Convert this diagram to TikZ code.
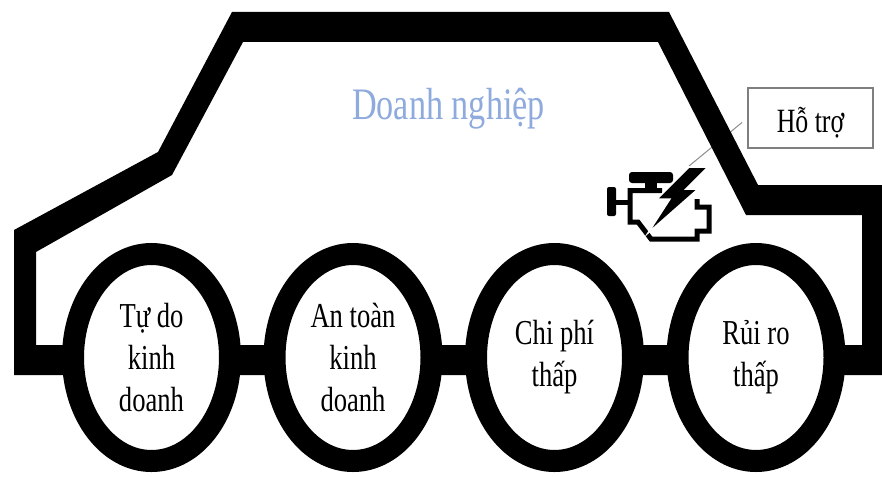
\documentclass[tikz,border=0pt]{standalone}
\usepackage{fontspec}
\setmainfont{Liberation Serif}
\newfontfamily\carfont{Liberation Serif}[FakeStretch=0.76]
\usetikzlibrary{shapes.geometric}
\definecolor{titleblue}{HTML}{8FAADC}
\definecolor{framegray}{HTML}{7F7F7F}
\definecolor{leadgray}{HTML}{8C8C8C}
\begin{document}
\begin{tikzpicture}[x=1pt,y=-1pt,
  wheel/.style={ellipse, draw=black, fill=white, line width=22pt,
    minimum width=157pt, minimum height=207pt, inner sep=0pt,
    align=center, font=\carfont\fontsize{35}{42}\selectfont},
  labelbox/.style={draw=framegray, line width=1.1pt, fill=white,
    minimum width=125pt, minimum height=60pt, inner sep=0pt,
    text height=32pt, text depth=4pt,
    font=\carfont\fontsize{34}{40}\selectfont},
  leader/.style={draw=leadgray, line width=1pt},
  iconline/.style={line width=5pt, line join=miter, line cap=butt}]
\useasboundingbox (0,0) rectangle (882,476);

% label box and its leader line (the car body passes over the line)
\node[labelbox] (hotro) at (810.5,118) {Hỗ trợ};
\coordinate (engine) at (689,166);
\draw[leader, shorten <=7pt] (hotro.west) -- (engine);

% car body: outer outline minus inner outline
\fill[black, even odd rule]
  (14,375) -- (14,230) -- (158,152) -- (232,12) -- (669,12) -- (758,185)
  -- (882,185) -- (882,375) -- cycle
  (36,345) -- (36,252) -- (172,175) -- (243,42) -- (658,42) -- (746,215)
  -- (862,215) -- (862,345) -- cycle;

% title
\node[font=\carfont\fontsize{45}{54}\selectfont, text=titleblue, anchor=base]
  (title) at (448.5,119) {Doanh nghiệp};

% wheels
\node[wheel] (w1) at (151.5,357.5) {Tự do\\kinh\\doanh};
\node[wheel] (w2) at (353,357.5) {An toàn\\kinh\\doanh};
\node[wheel] (w3) at (554.5,357.5) {Chi phí\\thấp};
\node[wheel] (w4) at (756,357.5) {Rủi ro\\thấp};

% engine warning icon
\fill[black, rounded corners=3pt] (629,172) rectangle (673,183);
\fill[black] (645,181) rectangle (657,192);
\fill[black, rounded corners=2pt] (607,187) rectangle (616,216);
\draw[iconline] (615,202) -- (630,202);
\draw[iconline] (662,190.5) -- (630,190.5) -- (630,222) -- (638,222)
  -- (651,239) -- (697,239) -- (697,231) -- (709,231) -- (709,207)
  -- (697,207) -- (697,199);
\filldraw[fill=black, draw=white, line width=1.5pt]
  (689,167) -- (708,167) -- (686,189) -- (698,189) -- (648,233)
  -- (670,199) -- (657,199) -- cycle;
\end{tikzpicture}
\end{document}
